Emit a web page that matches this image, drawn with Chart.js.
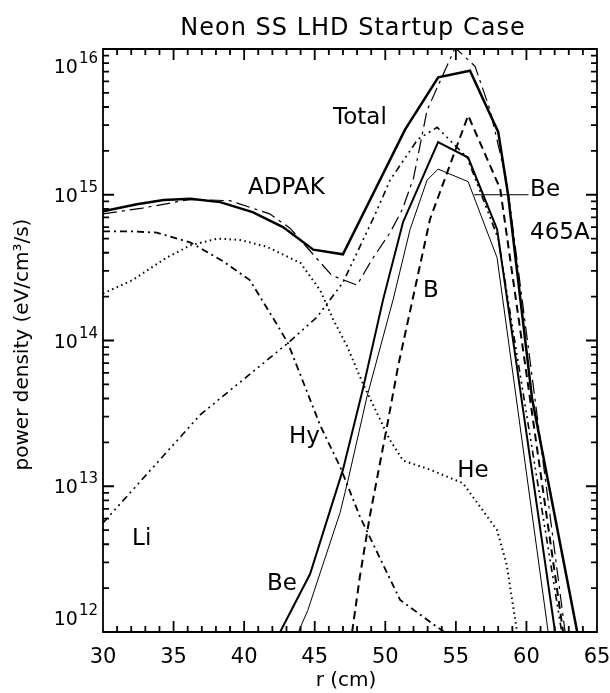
<!DOCTYPE html>
<html>
<head>
<meta charset="utf-8">
<script src="https://cdn.jsdelivr.net/npm/chart.js@4/dist/chart.umd.min.js"></script>
<style>
  html, body { margin: 0; padding: 0; background: #fff; }
  canvas { display: block; }
</style>
</head>
<body>
<canvas id="chart" width="610" height="693"></canvas>
<script>
// Radiated power density profiles, r in cm, power in eV/cm^3/s
const rTotal = [30, 32.4, 34.3, 36.2, 38.3, 40.6, 42.75, 44.9, 47.0, 51.4, 53.75, 56.0, 58.0, 58.7, 60.4, 63.6];
const pTotal = [7.7e14, 8.6e14, 9.2e14, 9.4e14, 8.9e14, 7.6e14, 6.0e14, 4.2e14, 3.9e14, 2.8e15, 6.4e15, 7.1e15, 2.7e15, 1.0e15, 4.0e13, 1.0e12];

const rAdpak = [30, 32.8, 36.2, 39.0, 41.8, 43.25, 46.2, 48.0, 49.06, 50.34, 51.2, 52.0, 52.96, 54.95, 56.36, 57.43, 58.63, 62.74];
const pAdpak = [7.4e14, 8.1e14, 9.3e14, 9.1e14, 7.4e14, 5.9e14, 2.8e14, 2.4e14, 3.6e14, 5.5e14, 7.9e14, 1.3e15, 3.8e15, 1.02e16, 7.6e15, 3.8e15, 1.2e15, 1.0e12];

const rBe = [42.55, 44.67, 47.0, 48.4, 49.84, 51.26, 53.74, 55.87, 57.92, 62.03];
const pBe = [1.0e12, 2.5e12, 1.3e13, 4.6e13, 1.9e14, 6.5e14, 2.3e15, 1.8e15, 5.8e14, 1.0e12];

const rBe465 = [43.84, 44.5, 46.8, 47.36, 48.7, 50.55, 51.76, 52.96, 53.74, 55.87, 57.92, 61.54];
const pBe465 = [1.0e12, 1.4e12, 6.6e12, 1.1e13, 4.1e13, 1.9e14, 5.8e14, 1.26e15, 1.5e15, 1.23e15, 3.7e14, 1.0e12];

const rB = [47.65, 48.2, 48.9, 50.13, 50.9, 53.17, 55.87, 58.14, 62.6];
const pB = [1.0e12, 2.4e12, 6.2e12, 2.6e13, 6.6e13, 6.8e14, 3.5e15, 1.1e15, 1.0e12];

const rLi = [30, 36.9, 43.1, 45.17, 47.0, 49.3, 50.34, 52.3, 53.67, 55.8, 58.0, 62.5];
const pLi = [5.6e12, 3.1e13, 9.6e13, 1.45e14, 2.5e14, 7.4e14, 1.26e15, 2.4e15, 2.9e15, 1.8e15, 5.0e14, 1.0e12];

const rHy = [30, 32.1, 33.8, 36.2, 38.5, 40.4, 42.3, 43.1, 45.4, 46.8, 48.2, 51.05, 53.74, 54.2];
const pHy = [5.6e14, 5.6e14, 5.5e14, 4.7e14, 3.5e14, 2.6e14, 1.3e14, 9.6e13, 2.6e13, 1.36e13, 6.2e12, 1.66e12, 1.07e12, 1.0e12];

const rHe = [30, 32.1, 34.5, 36.2, 38.1, 39.7, 41.6, 44.0, 45.4, 46.3, 47.3, 48.4, 50.3, 51.26, 53.17, 55.5, 57.92, 58.6, 59.34];
const pHe = [2.1e14, 2.6e14, 3.7e14, 4.5e14, 5.0e14, 4.9e14, 4.4e14, 3.4e14, 2.2e14, 1.4e14, 9.1e13, 5.1e13, 2.1e13, 1.5e13, 1.3e13, 1.05e13, 5.0e12, 2.9e12, 1.0e12];

// Axis ticks and labels
const xTickValues = [30, 35, 40, 45, 50, 55, 60, 65];
const xTickLabels = ['30', '35', '40', '45', '50', '55', '60', '65'];
const xMinorTicks = [31, 32, 33, 34, 36, 37, 38, 39, 41, 42, 43, 44, 46, 47, 48, 49, 51, 52, 53, 54, 56, 57, 58, 59, 61, 62, 63, 64];
const yDecadeExponents = [12, 13, 14, 15, 16];
const yMinorMantissas = [2, 3, 4, 5, 6, 7, 8, 9];
const yDecadeBase = '10';

// Curve labels, anchored in data coordinates (left end of text baseline)
const curveLabels = [
  { text: 'Total', r: 46.3,  p: 3.06e15 },
  { text: 'ADPAK', r: 40.28, p: 1.01e15 },
  { text: 'Be',    r: 60.26, p: 9.8e14 },
  { text: '465A',  r: 60.26, p: 5.0e14 },
  { text: 'B',     r: 52.68, p: 2.0e14 },
  { text: 'Hy',    r: 43.18, p: 1.98e13 },
  { text: 'He',    r: 55.09, p: 1.16e13 },
  { text: 'Li',    r: 32.06, p: 3.95e12 },
  { text: 'Be',    r: 41.62, p: 1.94e12 }
];
// Leader from the Be 465A label to its curve
const leader = { r0: 56.3, r1: 60.15, p: 1.0e15 };

const FONT = '"DejaVu Sans", "Liberation Sans", sans-serif';

function points(rs, ps) { return rs.map((r, i) => ({ x: r, y: ps[i] })); }

function series(label, rs, ps, width, dash) {
  return {
    label: label,
    data: points(rs, ps),
    borderColor: '#000',
    backgroundColor: '#000',
    borderWidth: width,
    borderDash: dash,
    borderCapStyle: 'butt',
    borderJoinStyle: 'miter',
    pointRadius: 0,
    fill: false,
    tension: 0
  };
}

const datasets = [
  series('Total', rTotal, pTotal, 2.5, []),
  series('ADPAK', rAdpak, pAdpak, 1.2, [14, 5, 3, 5]),
  series('Be', rBe, pBe, 2, []),
  series('Be 465A', rBe465, pBe465, 1, []),
  series('B', rB, pB, 2, [8, 5]),
  series('Li', rLi, pLi, 1.6, [7, 4, 2, 4, 2, 4, 2, 4]),
  series('Hy', rHy, pHy, 1.8, [7, 4, 2, 4]),
  series('He', rHe, pHe, 2, [1.5, 3.5])
];

// Plot box with inward tick marks on all four sides, one path
function drawBox(chart) {
  const ctx = chart.ctx;
  const xs = chart.scales.x, ys = chart.scales.y, a = chart.chartArea;
  ctx.save();
  ctx.setLineDash([]);
  ctx.strokeStyle = '#000';
  ctx.lineWidth = 1.8;
  ctx.beginPath();
  ctx.rect(a.left, a.top, a.right - a.left, a.bottom - a.top);
  const xTick = (v, len) => {
    const px = xs.getPixelForValue(v);
    ctx.moveTo(px, a.bottom); ctx.lineTo(px, a.bottom - len);
    ctx.moveTo(px, a.top); ctx.lineTo(px, a.top + len);
  };
  const yTick = (v, len) => {
    const py = ys.getPixelForValue(v);
    ctx.moveTo(a.left, py); ctx.lineTo(a.left + len, py);
    ctx.moveTo(a.right, py); ctx.lineTo(a.right - len, py);
  };
  xTickValues.forEach(v => xTick(v, 11));
  xMinorTicks.forEach(v => xTick(v, 6));
  yDecadeExponents.forEach(e => {
    yTick(Math.pow(10, e), 11);
    if (e < 16) yMinorMantissas.forEach(m => yTick(m * Math.pow(10, e), 6));
  });
  ctx.stroke();
  ctx.restore();
}

const frameAndText = {
  id: 'frameAndText',
  beforeDraw(chart) {
    const c = chart.ctx;
    c.save();
    c.fillStyle = '#fff';
    c.fillRect(0, 0, chart.width, chart.height);
    c.restore();
  },
  afterDraw(chart) {
    const ctx = chart.ctx;
    const xs = chart.scales.x, ys = chart.scales.y, a = chart.chartArea;

    drawBox(chart);

    ctx.save();
    ctx.fillStyle = '#000';
    ctx.strokeStyle = '#000';

    // x tick labels
    ctx.font = '21px ' + FONT;
    ctx.textAlign = 'center';
    ctx.textBaseline = 'alphabetic';
    xTickValues.forEach((v, i) => {
      ctx.fillText(xTickLabels[i], xs.getPixelForValue(v), a.bottom + 31);
    });

    // y tick labels: 10 with raised exponent, kept inside the axis span
    yDecadeExponents.forEach(e => {
      const py = ys.getPixelForValue(Math.pow(10, e));
      const c = Math.min(Math.max(py, a.top + 17), a.bottom - 14);
      const right = a.left - 5;
      ctx.textAlign = 'right';
      ctx.font = '15px ' + FONT;
      const expText = String(e);
      const w = ctx.measureText(expText).width;
      ctx.fillText(expText, right, c - 3);
      ctx.font = '19px ' + FONT;
      ctx.fillText(yDecadeBase, right - w - 1, c + 7);
    });

    // axis titles
    ctx.textAlign = 'center';
    ctx.font = '20px ' + FONT;
    ctx.fillText('r (cm)', (a.left + a.right) / 2 - 4, a.bottom + 54);
    ctx.save();
    ctx.translate(28, (a.top + a.bottom) / 2 + 4);
    ctx.rotate(-Math.PI / 2);
    ctx.fillText('power density (eV/cm\u00B3/s)', 0, 0);
    ctx.restore();

    // title
    ctx.font = '24px ' + FONT;
    if ('letterSpacing' in ctx) ctx.letterSpacing = '1px';
    ctx.fillText('Neon SS LHD Startup Case', (a.left + a.right) / 2 + 3, a.top - 14);
    if ('letterSpacing' in ctx) ctx.letterSpacing = '0px';

    // curve labels
    ctx.font = '23px ' + FONT;
    ctx.textAlign = 'left';
    curveLabels.forEach(l => {
      ctx.fillText(l.text, xs.getPixelForValue(l.r), ys.getPixelForValue(l.p));
    });

    // leader line
    ctx.lineWidth = 1;
    const ly = ys.getPixelForValue(leader.p);
    ctx.beginPath();
    ctx.moveTo(xs.getPixelForValue(leader.r0), ly);
    ctx.lineTo(xs.getPixelForValue(leader.r1), ly);
    ctx.stroke();

    ctx.restore();
  }
};

new Chart(document.getElementById('chart').getContext('2d'), {
  type: 'line',
  data: { datasets: datasets },
  options: {
    responsive: false,
    animation: false,
    devicePixelRatio: 1,
    layout: { padding: { top: 49, right: 13, bottom: 0, left: 0 } },
    plugins: {
      legend: { display: false },
      tooltip: { enabled: false },
      title: { display: false }
    },
    scales: {
      x: {
        type: 'linear', min: 30, max: 65,
        grid: { display: false }, border: { display: false },
        ticks: { display: false },
        afterFit(s) { s.height = 61; }
      },
      y: {
        type: 'logarithmic', min: 1e12, max: 1e16,
        grid: { display: false }, border: { display: false },
        ticks: { display: false },
        afterFit(s) { s.width = 103; }
      }
    }
  },
  plugins: [frameAndText]
});
</script>
</body>
</html>
